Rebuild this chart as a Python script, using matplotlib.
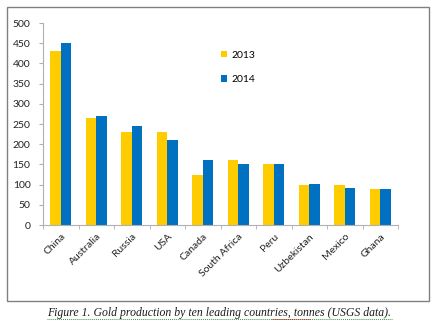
import numpy as np
import matplotlib
matplotlib.use("Agg")
import matplotlib.pyplot as plt
from matplotlib.patches import Rectangle
from matplotlib.lines import Line2D

countries = ["China", "Australia", "Russia", "USA", "Canada", "South Africa",
             "Peru", "Uzbekistan", "Mexico", "Ghana"]
prod_2013 = [430, 265, 230, 230, 124, 160, 151, 98, 98, 90]
prod_2014 = [450, 270, 245, 211, 160, 150, 150, 102, 92, 90]

yellow = "#FFCC00"
blue = "#0070C0"

plt.rcParams["font.family"] = ["Lato", "DejaVu Sans"]

fig = plt.figure(figsize=(4.37, 3.26), dpi=100)
ax = fig.add_axes([0.0984, 0.3098, 0.8126, 0.6196])

x = np.arange(len(countries))
w = 0.3
ax.bar(x - w / 2, prod_2013, w, color=yellow, label="2013")
ax.bar(x + w / 2, prod_2014, w, color=blue, label="2014")

ax.set_xlim(-0.5, len(countries) - 0.5)
ax.set_ylim(0, 500)
ax.set_yticks(range(0, 501, 50))
ax.tick_params(axis="y", labelsize=7.5, length=3, color="#B0B0B0", pad=6,
               labelcolor="#222222")

# category labels in the middle, tick marks on the boundaries
ax.set_xticks(x)
ax.set_xticklabels(countries, rotation=45, ha="right", rotation_mode="anchor",
                   fontsize=7.5, color="#222222")
ax.tick_params(axis="x", length=0, pad=5)
ax.set_xticks(np.arange(-0.5, len(countries)), minor=True)
ax.tick_params(axis="x", which="minor", length=3, color="#B0B0B0")

for s in ["top", "right"]:
    ax.spines[s].set_visible(False)
ax.spines["left"].set_color("#B0B0B0")
ax.spines["bottom"].set_color("#B0B0B0")

leg = ax.legend(loc="upper left", bbox_to_anchor=(0.475, 0.91), frameon=False,
                fontsize=7.5, handlelength=0.6, handleheight=0.6,
                handletextpad=0.4, labelspacing=1.5)

# frame around the chart
fig.patches.append(Rectangle((0.016, 0.077), 0.966, 0.902, transform=fig.transFigure,
                             fill=False, edgecolor="#808080", linewidth=1))

fig.text(0.502, 0.040, "Figure 1. Gold production by ten leading countries, tonnes (USGS data).",
         ha="center", va="center", fontsize=8.5, style="italic",
         family="Liberation Serif", color="#1a1a1a")
fig.lines.append(Line2D([0.108, 0.897], [0.020, 0.020], transform=fig.transFigure,
                        color="#3a9a3a", linewidth=0.7, linestyle=(0, (1, 1))))
fig.lines.append(Line2D([0.622, 0.712], [0.020, 0.020], transform=fig.transFigure,
                        color="#d02020", linewidth=0.7, linestyle=(0, (1, 1))))

fig.savefig("out.png", dpi=100)
